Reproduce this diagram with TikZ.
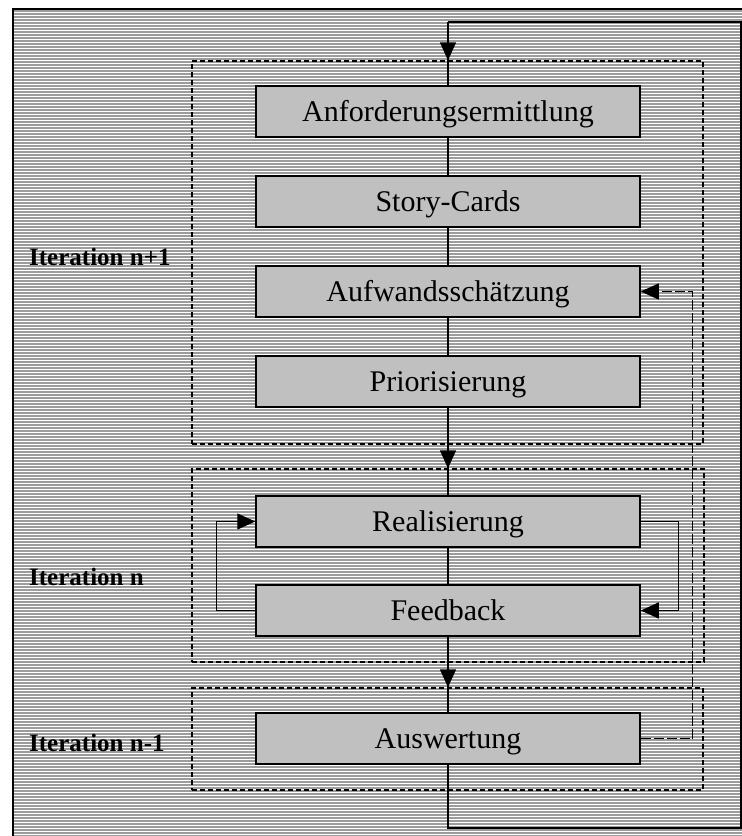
\documentclass[tikz,border=0pt]{standalone}
\usepackage{fontspec}
\setmainfont{Liberation Serif}
\usetikzlibrary{arrows.meta}
\definecolor{boxgray}{HTML}{C0C0C0}
\definecolor{hatchgray}{HTML}{9C9C9C}
\begin{document}
\begin{tikzpicture}[x=1pt,y=-1pt,
  stepbox/.style={draw=black, line width=1.5pt, fill=boxgray, minimum width=384pt, minimum height=51pt, inner sep=0pt, text height=22pt, text depth=3pt, font=\fontsize{30}{33}\selectfont},
  groupbox/.style={draw=black, line width=1.3pt, dash pattern=on 5pt off 3pt, inner sep=0pt},
  iterlabel/.style={anchor=base west, inner sep=0pt, font=\fontsize{25}{28}\selectfont\bfseries},
  conn/.style={draw=black, line width=1.3pt},
  tip/.style={-{Triangle[length=18pt,width=16pt]}},
  ldash/.style={draw=black, line width=1.4pt, dash pattern=on 10pt off 3pt},
  hatch/.style={draw=hatchgray, line width=1.3pt}
]
\useasboundingbox (0,0) rectangle (742,836);
% background hatching
\foreach \yy in {11,14,...,836} \draw[hatch] (13,\yy) -- (742,\yy);
% outer frame
\draw[line width=2pt] (12.5,836) -- (12.5,9) -- (742,9);

% group boxes
\node[groupbox, minimum width=511pt, minimum height=383pt] (g1) at (447.5,252.5) {};
\node[groupbox, minimum width=512pt, minimum height=193pt] (g2) at (448,565.5) {};
\node[groupbox, minimum width=511pt, minimum height=102pt] (g3) at (447.5,739) {};

% labels
\node[iterlabel] (l1) at (29,265) {Iteration n+1};
\node[iterlabel] (l2) at (29,585) {Iteration n};
\node[iterlabel] (l3) at (29,751) {Iteration n-1};

% coordinates of the outer loop
\coordinate (lt) at (448,22);
\coordinate (rt) at (741,22);
\coordinate (rb) at (741,828);
\coordinate (lb) at (448,828);

% main connectors (behind boxes)
\draw[conn] (lt) -- (448,86);
\draw[conn] (448,137) -- (448,496);
\draw[conn] (448,547) -- (448,713);

% step boxes
\node[stepbox] (anf) at (448,111.5) {Anforderungsermittlung};
\node[stepbox] (story) at (448,201.5) {Story-Cards};
\node[stepbox] (aufw) at (448,291.5) {Aufwandsschätzung};
\node[stepbox] (prio) at (448,381.5) {Priorisierung};
\node[stepbox] (real) at (448,521.5) {Realisierung};
\node[stepbox] (feed) at (448,610.5) {Feedback};
\node[stepbox] (aus) at (448,738.5) {Auswertung};

% arrows onto the group boxes
\draw[conn] (aus.south) -- (lb) -- (rb) -- (rt) -- (lt);
\draw[conn, tip] (lt) -- (lt |- g1.north);
\draw[conn, tip] (prio.south) -- (prio.south |- g2.north);
\draw[conn, tip] (feed.south) -- (feed.south |- g3.north);

% inner loops
\draw[conn, tip] (feed.west) -- ++(-39,0) |- (real.west);
\draw[conn, tip] (real.east) -- ++(38,0) |- (feed.east);
\draw[ldash, tip] (aus.east) -- ++(52,0) |- (aufw.east);
\end{tikzpicture}
\end{document}
